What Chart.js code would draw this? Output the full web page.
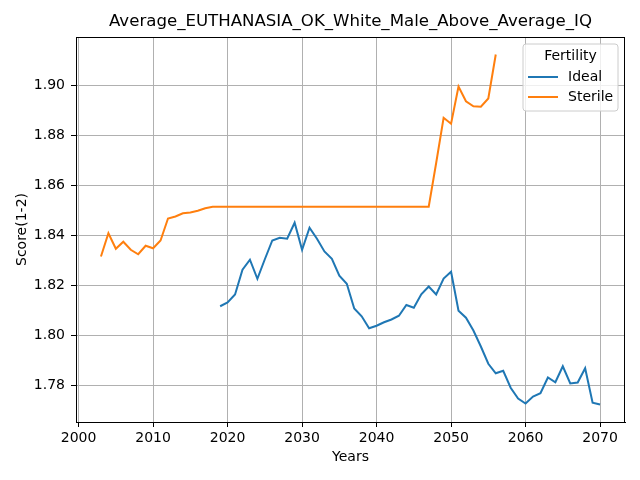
<!DOCTYPE html>
<html>
<head>
<meta charset="utf-8">
<script src="https://cdn.jsdelivr.net/npm/chart.js@4"></script>
<style>
  body { margin: 0; background: #fff; }
  #wrap { width: 640px; height: 480px; }
</style>
</head>
<body>
<div id="wrap"><canvas id="chart" width="640" height="480"></canvas></div>
<script>
// datos
const idealYears = [2019, 2020, 2021, 2022, 2023, 2024, 2025, 2026, 2027, 2028, 2029,
  2030, 2031, 2032, 2033, 2034, 2035, 2036, 2037, 2038, 2039, 2040, 2041, 2042, 2043,
  2044, 2045, 2046, 2047, 2048, 2049, 2050, 2051, 2052, 2053, 2054, 2055, 2056, 2057,
  2058, 2059, 2060, 2061, 2062, 2063, 2064, 2065, 2066, 2067, 2068, 2069, 2070];
const idealValues = [1.8117, 1.8132, 1.8164, 1.8263, 1.8303, 1.8227, 1.8305, 1.8380,
  1.8391, 1.8387, 1.8451, 1.8343, 1.8431, 1.8387, 1.8336, 1.8307, 1.8239, 1.8207,
  1.8108, 1.8077, 1.8029, 1.8039, 1.8053, 1.8064, 1.8079, 1.8122, 1.8111, 1.8165,
  1.8196, 1.8164, 1.8228, 1.8255, 1.8099, 1.8071, 1.8020, 1.7956, 1.7887, 1.7849,
  1.7859, 1.7791, 1.7748, 1.7728, 1.7756, 1.7769, 1.7832, 1.7813, 1.7877, 1.7808,
  1.7812, 1.7869, 1.7731, 1.7724];

const sterileYears = [2003, 2004, 2005, 2006, 2007, 2008, 2009, 2010, 2011, 2012, 2013,
  2014, 2015, 2016, 2017, 2018, 2019, 2020, 2021, 2022, 2023, 2024, 2025, 2026, 2027,
  2028, 2029, 2030, 2031, 2032, 2033, 2034, 2035, 2036, 2037, 2038, 2039, 2040, 2041,
  2042, 2043, 2044, 2045, 2046, 2047, 2048, 2049, 2050, 2051, 2052, 2053, 2054, 2055, 2056];
const sterileValues = [1.8316, 1.8409, 1.8347, 1.8375, 1.8343, 1.8325, 1.8359, 1.8349,
  1.8380, 1.8468, 1.8476, 1.8489, 1.8492, 1.8499, 1.8509, 1.8515, 1.8515, 1.8515,
  1.8515, 1.8515, 1.8515, 1.8515, 1.8515, 1.8515, 1.8515, 1.8515, 1.8515, 1.8515,
  1.8515, 1.8515, 1.8515, 1.8515, 1.8515, 1.8515, 1.8515, 1.8515, 1.8515, 1.8515,
  1.8515, 1.8515, 1.8515, 1.8515, 1.8515, 1.8515, 1.8515, 1.8690, 1.8871, 1.8847,
  1.8996, 1.8937, 1.8917, 1.8915, 1.8948, 1.9124];

const xTicks = [2000, 2010, 2020, 2030, 2040, 2050, 2060, 2070];
const yTicks = [1.78, 1.80, 1.82, 1.84, 1.86, 1.88, 1.90];

const chartTitle = 'Average_EUTHANASIA_OK_White_Male_Above_Average_IQ';
const legendTitle = 'Fertility';

Chart.defaults.font.family = '"DejaVu Sans", sans-serif';
Chart.defaults.color = '#000';

// titulo, marco y leyenda al estilo matplotlib
const extras = {
  id: 'extras',
  afterDraw(chart) {
    const ctx = chart.ctx;
    const a = chart.chartArea;
    ctx.save();
    // marco
    ctx.strokeStyle = '#000';
    ctx.lineWidth = 1;
    ctx.strokeRect(a.left + 0.5, a.top + 0.5, a.right - a.left - 1, a.bottom - a.top);
    // titulo
    ctx.fillStyle = '#000';
    ctx.font = '16.6px "DejaVu Sans"';
    ctx.textAlign = 'center';
    ctx.textBaseline = 'middle';
    ctx.fillText(chartTitle, (a.left + a.right) / 2, 22);
    // leyenda
    const bx = 523, by = 44, bw = 95, bh = 67, r = 3;
    ctx.beginPath();
    ctx.moveTo(bx + r, by);
    ctx.arcTo(bx + bw, by, bx + bw, by + bh, r);
    ctx.arcTo(bx + bw, by + bh, bx, by + bh, r);
    ctx.arcTo(bx, by + bh, bx, by, r);
    ctx.arcTo(bx, by, bx + bw, by, r);
    ctx.closePath();
    ctx.fillStyle = 'rgba(255,255,255,0.8)';
    ctx.fill();
    ctx.strokeStyle = '#cccccc';
    ctx.stroke();
    ctx.font = '14px "DejaVu Sans"';
    ctx.fillStyle = '#000';
    ctx.textAlign = 'center';
    ctx.fillText(legendTitle, bx + bw / 2, by + 12);
    chart.data.datasets.forEach((ds, i) => {
      const ly = by + 33 + i * 20;
      ctx.strokeStyle = ds.borderColor;
      ctx.lineWidth = 2;
      ctx.beginPath();
      ctx.moveTo(bx + 5, ly);
      ctx.lineTo(bx + 35, ly);
      ctx.stroke();
      ctx.fillStyle = '#000';
      ctx.textAlign = 'left';
      ctx.fillText(ds.label, bx + 45, ly);
    });
    ctx.restore();
  }
};

const ctx = document.getElementById('chart').getContext('2d');
new Chart(ctx, {
  type: 'line',
  data: {
    datasets: [{
      label: 'Ideal',
      data: idealYears.map((y, i) => ({ x: y, y: idealValues[i] })),
      borderColor: '#1f77b4',
      borderWidth: 2,
      pointRadius: 0,
      tension: 0
    }, {
      label: 'Sterile',
      data: sterileYears.map((y, i) => ({ x: y, y: sterileValues[i] })),
      borderColor: '#ff7f0e',
      borderWidth: 2,
      pointRadius: 0,
      tension: 0
    }]
  },
  options: {
    responsive: false,
    animation: false,
    devicePixelRatio: 1,
    layout: { padding: { top: 37, right: 15, left: 0, bottom: 0 } },
    plugins: {
      legend: { display: false },
      tooltip: { enabled: false }
    },
    scales: {
      x: {
        type: 'linear',
        min: 1999.65,
        max: 2073.35,
        afterBuildTicks: s => { s.ticks = xTicks.map(v => ({ value: v })); },
        afterFit: s => { s.height = 58; },
        ticks: { font: { size: 14 }, padding: 3, maxRotation: 0, callback: v => String(v) },
        grid: { color: '#b0b0b0', tickColor: '#000', tickLength: 5, lineWidth: 1 },
        border: { display: true, color: '#000' },
        title: { display: true, text: 'Years', font: { size: 14 }, padding: { top: 3, bottom: 14 } }
      },
      y: {
        type: 'linear',
        min: 1.7654,
        max: 1.9194,
        afterBuildTicks: s => { s.ticks = yTicks.map(v => ({ value: v })); },
        afterFit: s => { s.width = 76; },
        ticks: { font: { size: 14 }, padding: 6, callback: v => v.toFixed(2) },
        grid: { color: '#b0b0b0', tickColor: '#000', tickLength: 5, lineWidth: 1 },
        border: { display: true, color: '#000' },
        title: { display: true, text: 'Score(1-2)', font: { size: 14 }, padding: { top: 14, bottom: 4 } }
      }
    }
  },
  plugins: [extras]
});
</script>
</body>
</html>
